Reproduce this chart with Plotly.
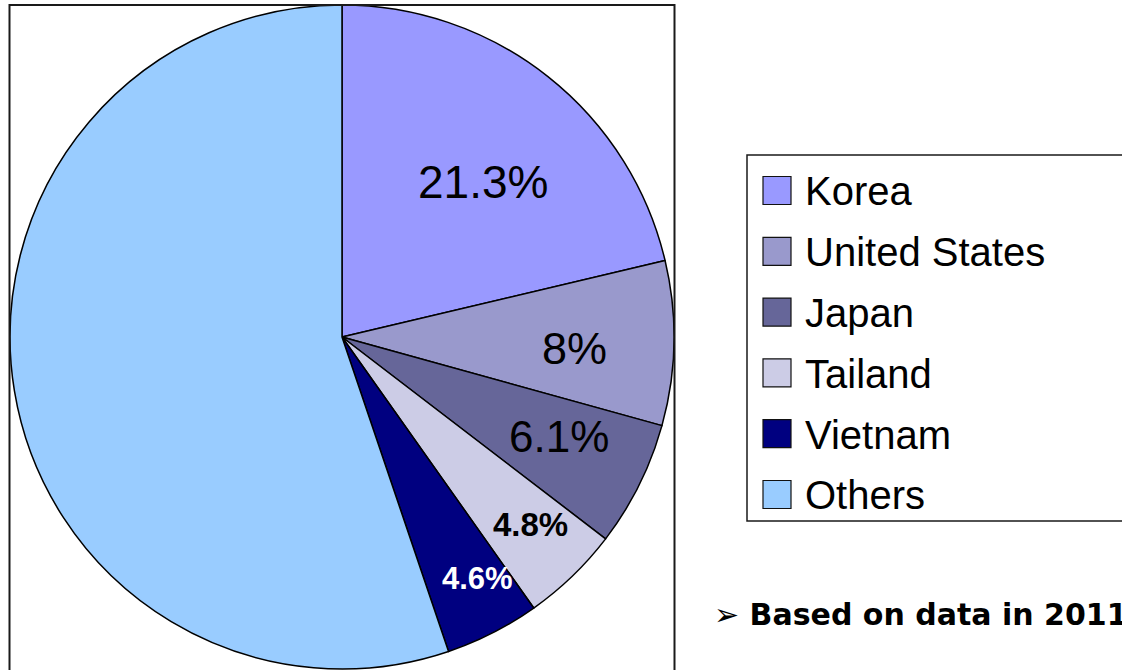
import math
import plotly.graph_objects as go

# ---- data ----
countries = ["Korea", "United States", "Japan", "Tailand", "Vietnam", "Others"]
shares = [21.3, 8, 6.1, 4.8, 4.6, 55.2]
colors = ["#9999FF", "#9999CC", "#666699", "#CCCCE6", "#000080", "#99CCFF"]
note = "➢ Based on data in 2011"

# ---- label styling (per slice; None = no label) ----
label_bold = [False, False, False, True, True, None]
label_sizes = [46, 45, 44, 33, 31, 0]
label_colors = ["black", "black", "black", "black", "white", "black"]
label_rfrac = [0.63, 0.70, 0.72, 0.80, 0.835, 0]
label_dangle = [4.0, 1.8, -1.9, -1.3, -2.3, 0]

W, H = 1122, 670
CX, CY, R = 342, 337, 332   # pie centre / radius in page pixels


def px(x):
    return x / W


def py(y):
    return 1 - y / H


fig = go.Figure()
fig.add_trace(go.Pie(
    labels=countries,
    values=shares,
    sort=False,
    direction="clockwise",
    rotation=0,
    marker=dict(colors=colors, line=dict(color="black", width=1.5)),
    textinfo="none",
    domain=dict(x=[px(CX - R), px(CX + R)], y=[py(CY + R), py(CY - R)]),
    showlegend=False,
    hoverinfo="label+value",
))

shapes = []
annotations = []

# slice labels, placed along each slice's bisector
total = sum(shares)
cum = 0.0
for i, v in enumerate(shares):
    mid = (cum + v / 2) / total * 360.0
    cum += v
    if label_bold[i] is None:
        continue
    a = math.radians(mid + label_dangle[i])
    r = label_rfrac[i] * R
    txt = f"{v:g}%"
    if label_bold[i]:
        txt = f"<b>{txt}</b>"
    annotations.append(dict(xref="paper", yref="paper",
                            x=px(CX + r * math.sin(a)), y=py(CY - r * math.cos(a)),
                            xanchor="center", yanchor="middle", showarrow=False,
                            text=txt,
                            font=dict(family="Liberation Sans, Arial, sans-serif",
                                      size=label_sizes[i], color=label_colors[i])))

# frame around pie
shapes.append(dict(type="rect", xref="paper", yref="paper",
                   x0=px(9.5), x1=px(674.5), y0=py(700), y1=py(5),
                   line=dict(color="#1a1a1a", width=2), layer="above"))

# legend box
shapes.append(dict(type="rect", xref="paper", yref="paper",
                   x0=px(747), x1=px(1140), y0=py(521), y1=py(155),
                   line=dict(color="#1a1a1a", width=1.5), layer="above"))

row0, step, sq = 190.5, 60.8, 28
for i, (name, col) in enumerate(zip(countries, colors)):
    cy = row0 + i * step
    shapes.append(dict(type="rect", xref="paper", yref="paper",
                       x0=px(763), x1=px(763 + sq),
                       y0=py(cy + sq / 2), y1=py(cy - sq / 2),
                       fillcolor=col, line=dict(color="#111111", width=1.2)))
    annotations.append(dict(xref="paper", yref="paper", x=px(803), y=py(cy + 1),
                            xanchor="left", yanchor="middle", showarrow=False,
                            text=name,
                            font=dict(family="Liberation Sans, Arial, sans-serif",
                                      size=40, color="black")))

annotations.append(dict(xref="paper", yref="paper", x=px(712), y=py(614),
                        xanchor="left", yanchor="middle", showarrow=False,
                        text="<b>" + note + "</b>",
                        font=dict(family="DejaVu Sans, sans-serif",
                                  size=30, color="black")))

fig.update_layout(
    width=W, height=H, autosize=False,
    margin=dict(l=0, r=0, t=0, b=0),
    paper_bgcolor="white", plot_bgcolor="white",
    shapes=shapes, annotations=annotations,
    showlegend=False,
)

fig.write_html("out.html",
               config={"displayModeBar": False},
               post_script="document.body.style.margin='0';document.body.style.overflow='hidden';")
